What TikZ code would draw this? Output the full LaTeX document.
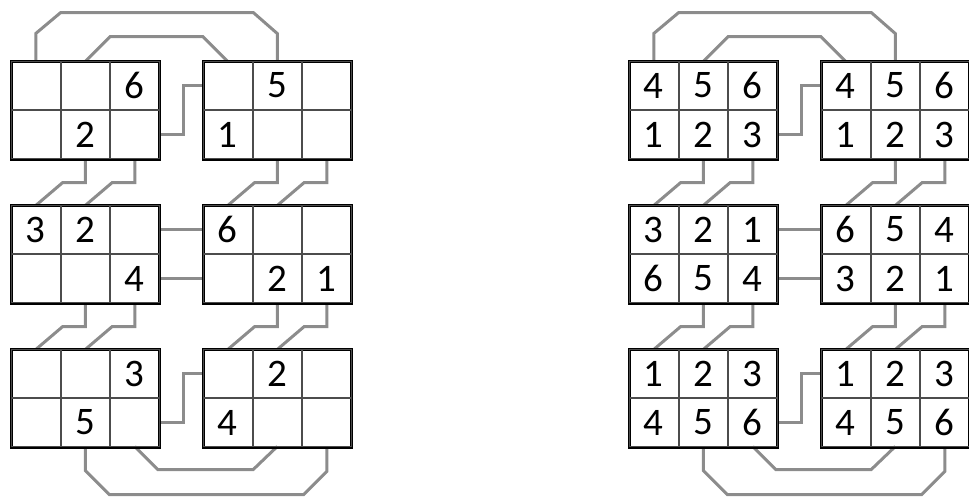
\documentclass[tikz,border=0pt]{standalone}
\usepackage{fontspec}
\setmainfont{Carlito}
\usetikzlibrary{matrix,calc,backgrounds}
\tikzset{
  cbox/.style={matrix of nodes, nodes in empty cells, draw=black, line width=3pt,
    inner sep=0pt, outer sep=0pt, row sep=0pt, column sep=0pt, anchor=north west,
    nodes={draw=black!70, line width=1pt, minimum width=48.5pt, minimum height=48pt,
      inner sep=0pt, outer sep=0pt, anchor=center, font=\fontsize{39}{42}\selectfont}},
  conn/.style={draw=black!45, line width=3pt, line join=miter}
}
\begin{document}
\begin{tikzpicture}[x=1pt,y=-1pt]
\useasboundingbox (0,0) rectangle (969,496);
% left diagram
\matrix[cbox] (LA) at (11,61) { & & 6 \\ & 2 & \\ };
\matrix[cbox] (LB) at (203,61) { & 5 & \\ 1 & & \\ };
\matrix[cbox] (LC) at (11,205) { 3 & 2 & \\ & & 4 \\ };
\matrix[cbox] (LD) at (203,205) { 6 & & \\ & 2 & 1 \\ };
\matrix[cbox] (LE) at (11,349) { & & 3 \\ & 5 & \\ };
\matrix[cbox] (LF) at (203,349) { & 2 & \\ 4 & & \\ };
% right diagram
\matrix[cbox] (RA) at (629,61) { 4 & 5 & 6 \\ 1 & 2 & 3 \\ };
\matrix[cbox] (RB) at (821,61) { 4 & 5 & 6 \\ 1 & 2 & 3 \\ };
\matrix[cbox] (RC) at (629,205) { 3 & 2 & 1 \\ 6 & 5 & 4 \\ };
\matrix[cbox] (RD) at (821,205) { 6 & 5 & 4 \\ 3 & 2 & 1 \\ };
\matrix[cbox] (RE) at (629,349) { 1 & 2 & 3 \\ 4 & 5 & 6 \\ };
\matrix[cbox] (RF) at (821,349) { 1 & 2 & 3 \\ 4 & 5 & 6 \\ };
\begin{scope}[on background layer]
\foreach \s in {L,R} {
  % top arcs
  \draw[conn] (\s A-1-1.north) -- ++(0,-28) -- ++(25,-21)
     -- ($(\s B-1-2.north)+(-24,-49)$) -- ($(\s B-1-2.north)+(0,-28)$) -- (\s B-1-2.north);
  \draw[conn] (\s A-1-2.north) -- ++(25,-25) -- ($(\s B-1-1.north)+(-25,-25)$) -- (\s B-1-1.north);
  % side links
  \draw[conn] (\s A-2-3.east) -- ++(24,0) |- (\s B-1-1.west);
  \draw[conn] (\s C-1-3.east) -- (\s D-1-1.west);
  \draw[conn] (\s C-2-3.east) -- (\s D-2-1.west);
  \draw[conn] (\s E-2-3.east) -- ++(24,0) |- (\s F-1-1.west);
  % vertical links
  \foreach \u/\l in {A/C,B/D,C/E,D/F} {
    \draw[conn] (\s\u-2-2.south) |- ($(\s\l-1-1.north)+(27,-23)$) -- (\s\l-1-1.north);
    \draw[conn] (\s\u-2-3.south) |- ($(\s\l-1-2.north)+(27,-23)$) -- (\s\l-1-2.north);
  }
  % bottom arcs
  \draw[conn] (\s E-2-3.south) -- ++(23,23) -- ($(\s F-2-2.south)+(-24,23)$) -- (\s F-2-2.south);
  \draw[conn] (\s E-2-2.south) -- ++(0,24) -- ++(24,24)
     -- ($(\s F-2-3.south)+(-23,48)$) -- ($(\s F-2-3.south)+(0,25)$) -- (\s F-2-3.south);
}
\end{scope}
\end{tikzpicture}
\end{document}
